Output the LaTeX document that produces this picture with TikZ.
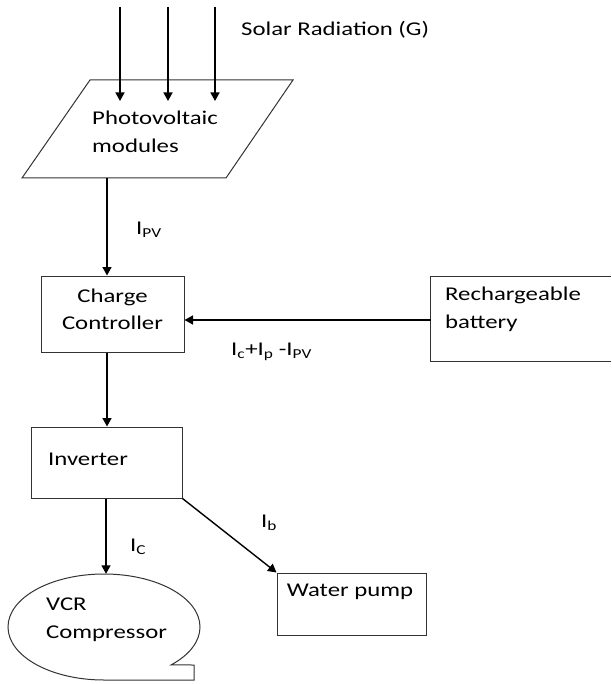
\documentclass[tikz,border=0pt]{standalone}
\usepackage{fontspec}
\setmainfont{Carlito}[FakeStretch=1.27]
\usetikzlibrary{arrows.meta,shapes.geometric}
\begin{document}
\begin{tikzpicture}[x=1pt,y=-1pt,
  txt/.style={font=\fontsize{19.5}{27.5}\selectfont, inner sep=0pt, text=black},
  boxn/.style={draw=black!80, line width=1pt, rectangle, inner sep=0pt},
  edge/.style={draw=black!80, line width=1pt},
  arr/.style={draw=black, line width=1.4pt, -{Triangle[length=8.5pt,width=9pt]}}
]
\useasboundingbox (0,0) rectangle (611,684);
\fill[white] (0,0) rectangle (611,684);

% solar radiation
\coordinate (s1) at (120,7);
\coordinate (s2) at (168,7);
\coordinate (s3) at (215,7);
\node[txt, anchor=west] (solar) at (241,30) {Solar Radiation (G)};

% photovoltaic modules (parallelogram)
\coordinate (pvtl) at (90,80);
\coordinate (pvtr) at (293,80);
\coordinate (pvbr) at (226,178);
\coordinate (pvbl) at (22,178);
\draw[edge] (pvtl) -- (pvtr) -- (pvbr) -- (pvbl) -- cycle;
\node[txt, anchor=west, align=left] (pv) at (92,132) {Photovoltaic\\modules};
\coordinate (pvbot) at (107,178);

\draw[arr] (s1) -- (120,101);
\draw[arr] (s2) -- (168,101);
\draw[arr] (s3) -- (215,101);

% charge controller
\node[boxn, minimum width=143pt, minimum height=76pt] (cc) at (112.5,314) {};
\node[txt, align=center] (cctext) at (112.5,309.5) {Charge\\Controller};

% battery (its right side is cut off by the picture edge)
\node[rectangle, inner sep=0pt, minimum width=180pt, minimum height=84pt] (bat) at (521,319) {};
\draw[edge] (bat.north east) -- (bat.north west) -- (bat.south west) -- (bat.south east);
\node[txt, anchor=west, align=left] (battext) at (445,309.5) {Rechargeable\\battery};

% inverter
\node[boxn, minimum width=151pt, minimum height=71pt] (inv) at (106.5,462.5) {};
\node[txt, anchor=west] (invtext) at (48,459) {Inverter};

% water pump
\node[boxn, minimum width=149pt, minimum height=62pt] (wp) at (351.5,604) {};
\node[txt] (wptext) at (350,592) {Water pump};

% VCR compressor
\node[ellipse, minimum width=192pt, minimum height=106pt, inner sep=0pt] (vcr) at (104,627) {};
\draw[edge] (104,680) arc[start angle=90, end angle=405.7, x radius=96, y radius=53]
  -- (194,665) -- (194,680) -- cycle;
\node[txt, anchor=west, align=left] (vcrtext) at (46,619.5) {VCR\\Compressor};

% connectors
\draw[arr] (pvbot) -- (pvbot |- cc.north);
\node[txt, anchor=west] (ipv) at (136,230) {I\textsubscript{PV}};

\draw[arr] ([yshift=-1pt]bat.west) -- ([yshift=-1pt]bat.west -| cc.east);
\node[txt, anchor=west] (iload) at (231,352) {I\textsubscript{c}+I\textsubscript{p}\;-I\textsubscript{PV}};

\draw[arr] (cc.south -| 107,0) -- (inv.north -| 107,0);

\draw[arr] (inv.south -| 106,0) -- (vcr.north -| 106,0);
\node[txt, anchor=west] (ic) at (130,547) {I\textsubscript{C}};

\draw[arr] (inv.south east) -- (wp.north west);
\node[txt, anchor=west] (ib) at (261,523) {I\textsubscript{b}};
\end{tikzpicture}
\end{document}
